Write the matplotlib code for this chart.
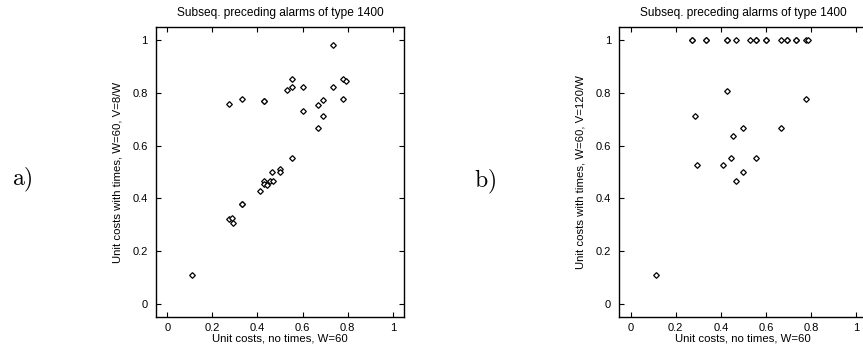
import matplotlib
matplotlib.use("Agg")
from matplotlib import pyplot as plt
import numpy as np

plt.rcParams['font.family'] = ['Liberation Sans', 'DejaVu Sans']
plt.rcParams['mathtext.fontset'] = 'cm'

title = "Subseq. preceding alarms of type 1400"
xlabel = "Unit costs, no times, W=60"
ylabel_a = "Unit costs with times, W=60, V=8/W"
ylabel_b = "Unit costs with times, W=60, V=120/W"
ticks = [0, 0.2, 0.4, 0.6, 0.8, 1]
tick_labels = ["0", "0.2", "0.4", "0.6", "0.8", "1"]

# a) V=8/W
xa = [0.111, 0.273, 0.333, 0.429, 0.429, 0.529, 0.555, 0.555, 0.600, 0.600,
      0.667, 0.667, 0.692, 0.692, 0.733, 0.733, 0.777, 0.791, 0.777,
      0.555, 0.500, 0.500, 0.466, 0.429, 0.429, 0.444, 0.454, 0.469,
      0.411, 0.333, 0.333, 0.273, 0.286, 0.293]
ya = [0.110, 0.757, 0.778, 0.771, 0.771, 0.811, 0.851, 0.821, 0.821, 0.732,
      0.754, 0.666, 0.773, 0.712, 0.981, 0.821, 0.851, 0.845, 0.777,
      0.554, 0.513, 0.499, 0.501, 0.467, 0.455, 0.450, 0.465, 0.465,
      0.427, 0.378, 0.378, 0.321, 0.324, 0.307]

# b) V=120/W
xb = [0.273, 0.273, 0.333, 0.333, 0.429, 0.429, 0.466, 0.528, 0.555, 0.555,
      0.600, 0.600, 0.667, 0.692, 0.692, 0.733, 0.733, 0.777, 0.789,
      0.429, 0.777, 0.286, 0.500, 0.667, 0.454, 0.444, 0.555, 0.295,
      0.411, 0.500, 0.466, 0.111]
yb = [1, 1, 1, 1, 1, 1, 1, 1, 1, 1,
      1, 1, 1, 1, 1, 1, 1, 1, 1,
      0.809, 0.777, 0.713, 0.666, 0.666, 0.635, 0.554, 0.554, 0.528,
      0.528, 0.499, 0.465, 0.110]

fig = plt.figure(figsize=(8.63, 3.47), dpi=100)
ax1 = fig.add_axes([0.1808, 0.0865, 0.2874, 0.8357])
ax2 = fig.add_axes([0.7176, 0.0865, 0.2874, 0.8357])

for ax, x, y, yl in [(ax1, xa, ya, ylabel_a), (ax2, xb, yb, ylabel_b)]:
    ax.plot(x, y, linestyle='none', marker='D', markersize=2.9,
            markerfacecolor='white', markeredgecolor='black', markeredgewidth=0.9)
    ax.set_xlim(-0.05, 1.05)
    ax.set_ylim(-0.05, 1.05)
    ax.set_xticks(ticks)
    ax.set_xticklabels(tick_labels)
    ax.set_yticks(ticks)
    ax.set_yticklabels(tick_labels)
    ax.tick_params(direction='in', length=3.5, width=0.8, labelsize=8,
                   top=True, right=(ax is ax1), pad=6)
    ax.tick_params(axis='x', pad=4)
    for s in ax.spines.values():
        s.set_linewidth(1.0)
    ax.set_title(title, fontsize=8.6, pad=8)
    ax.set_xlabel(xlabel, fontsize=8.2, labelpad=1)
    ax.set_ylabel(yl, fontsize=8.2, labelpad=7)

fig.text(0.026, 0.48, r'$\mathrm{a)}$', fontsize=17, ha='center', va='center')
fig.text(0.562, 0.475, r'$\mathrm{b)}$', fontsize=17, ha='center', va='center')

fig.savefig("out.png", dpi=100)
